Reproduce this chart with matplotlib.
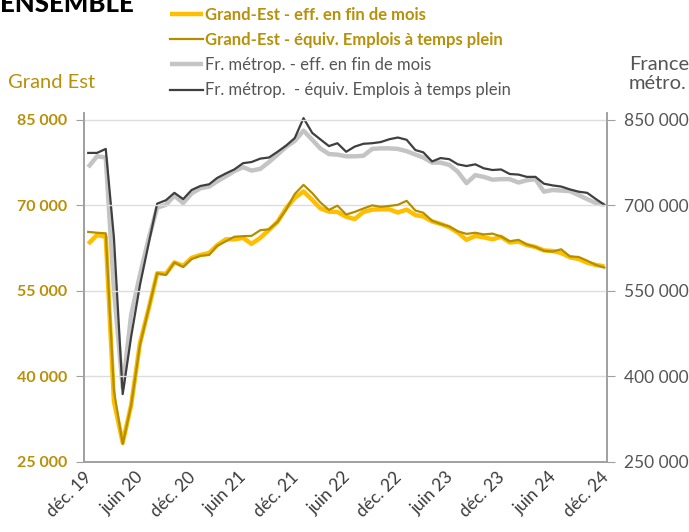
import numpy as np
import pandas as pd
import matplotlib
matplotlib.use('Agg')
import matplotlib.pyplot as plt
from matplotlib.transforms import ScaledTranslation

plt.rcParams['font.family'] = ['Lato', 'DejaVu Sans']

# monthly series, déc. 2019 -> déc. 2024
months = pd.date_range('2019-12-01', '2024-12-01', freq='MS')

# Grand Est (left axis)
ge_eff = [63250, 64800, 64500, 35600, 28400, 35000, 45800, 51700, 58100, 58000,
          60000, 59400, 60800, 61300, 61650, 63000, 64050, 64050, 64300, 63250,
          64300, 65700, 67100, 69550, 71300, 72450, 70950, 69500, 68900, 68850,
          68000, 67600, 68850, 69250, 69300, 69300, 68750, 69250, 68300, 68050,
          67200, 66750, 66150, 65250, 63950, 64650, 64400, 64050, 64500, 63500,
          63650, 63050, 62700, 62100, 62000, 61650, 60900, 60600, 59950, 59550,
          59300]
ge_etp = [65350, 65200, 65100, 37500, 28150, 35000, 45500, 51700, 58100, 57800,
          60000, 59200, 60600, 61150, 61300, 62900, 63700, 64500, 64600, 64650,
          65650, 65800, 67100, 69300, 72000, 73600, 72150, 70550, 69200, 69950,
          68400, 68850, 69450, 70000, 69750, 69900, 70100, 70800, 69100, 68700,
          67300, 66750, 66300, 65450, 65000, 65200, 64900, 65050, 64550, 63700,
          63950, 63150, 62700, 62050, 61900, 62300, 61050, 60950, 60300, 59550,
          59100]

# France métropolitaine (right axis)
fr_eff = [767000, 786000, 784000, 552000, 380000, 508000, 578000, 640000, 696000, 701000,
          717000, 704000, 721000, 730000, 733000, 742000, 751000, 760000, 767000, 761000,
          764000, 776000, 789000, 803000, 813000, 831000, 815000, 800000, 790000, 789000,
          786000, 786000, 787000, 799000, 800000, 800000, 799000, 795000, 789000, 784000,
          775000, 775000, 771000, 759000, 739000, 753000, 750000, 745000, 746000, 746000,
          740000, 744000, 746000, 724000, 727000, 726000, 725000, 718000, 711000, 704000,
          701000]
fr_etp = [792000, 792000, 799000, 643000, 369000, 470000, 560000, 631000, 703000, 709000,
          722000, 711000, 727000, 734000, 737000, 748000, 756000, 763000, 774000, 776000,
          782000, 784000, 794000, 805000, 818000, 853000, 827000, 816000, 804000, 809000,
          794000, 803000, 808000, 809000, 811000, 816000, 819000, 815000, 797000, 793000,
          777000, 783000, 781000, 772000, 769000, 772000, 765000, 762000, 763000, 755000,
          754000, 750000, 750000, 738000, 735000, 733000, 728000, 724000, 722000, 711000,
          701000]

tick_dates = pd.date_range('2019-12-01', '2024-12-01', freq='6MS')
tick_labels = ['déc. 19', 'juin 20', 'déc. 20', 'juin 21', 'déc. 21', 'juin 22',
               'déc. 22', 'juin 23', 'déc. 23', 'juin 24', 'déc. 24']
left_ticks = [25000, 40000, 55000, 70000, 85000]
right_ticks = [250000, 400000, 550000, 700000, 850000]

YELLOW = '#ffbf00'
GOLD = '#b38f00'
LGRAY = '#c4c4c4'
DGRAY = '#3f3f3f'
GOLD_TXT = '#b8900a'
GRAY_TXT = '#555555'
SPINE = '#a0a0a0'

# points sit mid-month
x = months + pd.Timedelta(days=15)

fig = plt.figure(figsize=(6.89, 5.32), dpi=100)
ax = fig.add_axes([0.1219, 0.1316, 0.759, 0.656])
ax2 = ax.twinx()

l3, = ax2.plot(x, fr_eff, color=LGRAY, lw=3.2, solid_capstyle='butt')
l4, = ax2.plot(x, fr_etp, color=DGRAY, lw=1.6)
l1, = ax.plot(x, ge_eff, color=YELLOW, lw=3.2, solid_capstyle='butt')
l2, = ax.plot(x, ge_etp, color=GOLD, lw=1.6)
ax.set_zorder(ax2.get_zorder() + 1)
ax.patch.set_visible(False)

ax.set_xlim(pd.Timestamp('2019-12-01'), pd.Timestamp('2024-12-25'))
ax.set_ylim(25000, 86200)
ax2.set_ylim(250000, 862000)

ax.set_xticks(tick_dates)
ax.set_xticklabels(tick_labels, rotation=45, ha='right', va='center',
                   rotation_mode='anchor', color='#3a3a3a', fontsize=12.5)
ax.tick_params(axis='x', length=0, pad=9)
shift = ScaledTranslation(4 / 72, 0, fig.dpi_scale_trans)
for lab in ax.get_xticklabels():
    lab.set_transform(lab.get_transform() + shift)
ax.set_xticks(pd.date_range('2019-12-01', '2024-12-01', freq='12MS'), minor=True)
ax.tick_params(axis='x', which='minor', length=6, color=SPINE)
ax.grid(True, which='minor', axis='x', color='#dddddd', lw=1)

ax.set_yticks(left_ticks)
ax.set_yticklabels([f'{v:,}'.replace(',', ' ') for v in left_ticks],
                   color=GOLD_TXT, fontweight='bold', fontsize=11.5)
ax.tick_params(axis='y', length=6, color=SPINE, pad=6)
ax.grid(True, which='major', axis='y', color='#dddddd', lw=1)

ax2.set_yticks(right_ticks)
ax2.set_yticklabels([f'{v:,}'.replace(',', ' ') for v in right_ticks],
                    color=GRAY_TXT, fontsize=12.5)
ax2.tick_params(axis='y', length=6, color=SPINE, pad=6)

for a in (ax, ax2):
    a.spines['top'].set_visible(False)
    for s in ('left', 'right', 'bottom'):
        a.spines[s].set_color(SPINE)
        a.spines[s].set_linewidth(1.2)

fig.text(8 / 689, 1 - 82 / 532, 'Grand Est', color=GOLD_TXT, fontsize=14.5, va='center')
fig.text(629 / 689, 1 - 74 / 532, 'France\nmétro.', color=GRAY_TXT, fontsize=14.5,
         va='center', linespacing=1.2)
fig.text(0.0, 1 - 12 / 532, 'ENSEMBLE', color='black', fontsize=18.5, fontweight='black',
         va='baseline')

leg = fig.legend([l1, l2, l3, l4],
                 ['Grand-Est - eff. en fin de mois',
                  'Grand-Est - équiv. Emplois à temps plein',
                  'Fr. métrop. - eff. en fin de mois',
                  'Fr. métrop.  - équiv. Emplois à temps plein'],
                 loc='upper left', bbox_to_anchor=(170 / 689, 1 - 7 / 532),
                 frameon=False, fontsize=12, handlelength=2.0, handletextpad=0.1,
                 labelspacing=0.55, borderaxespad=0, borderpad=0)
for i, t in enumerate(leg.get_texts()):
    if i < 2:
        t.set_color(GOLD_TXT)
        t.set_fontweight('bold')
    else:
        t.set_color(GRAY_TXT)

fig.savefig('out.png', dpi=100)
